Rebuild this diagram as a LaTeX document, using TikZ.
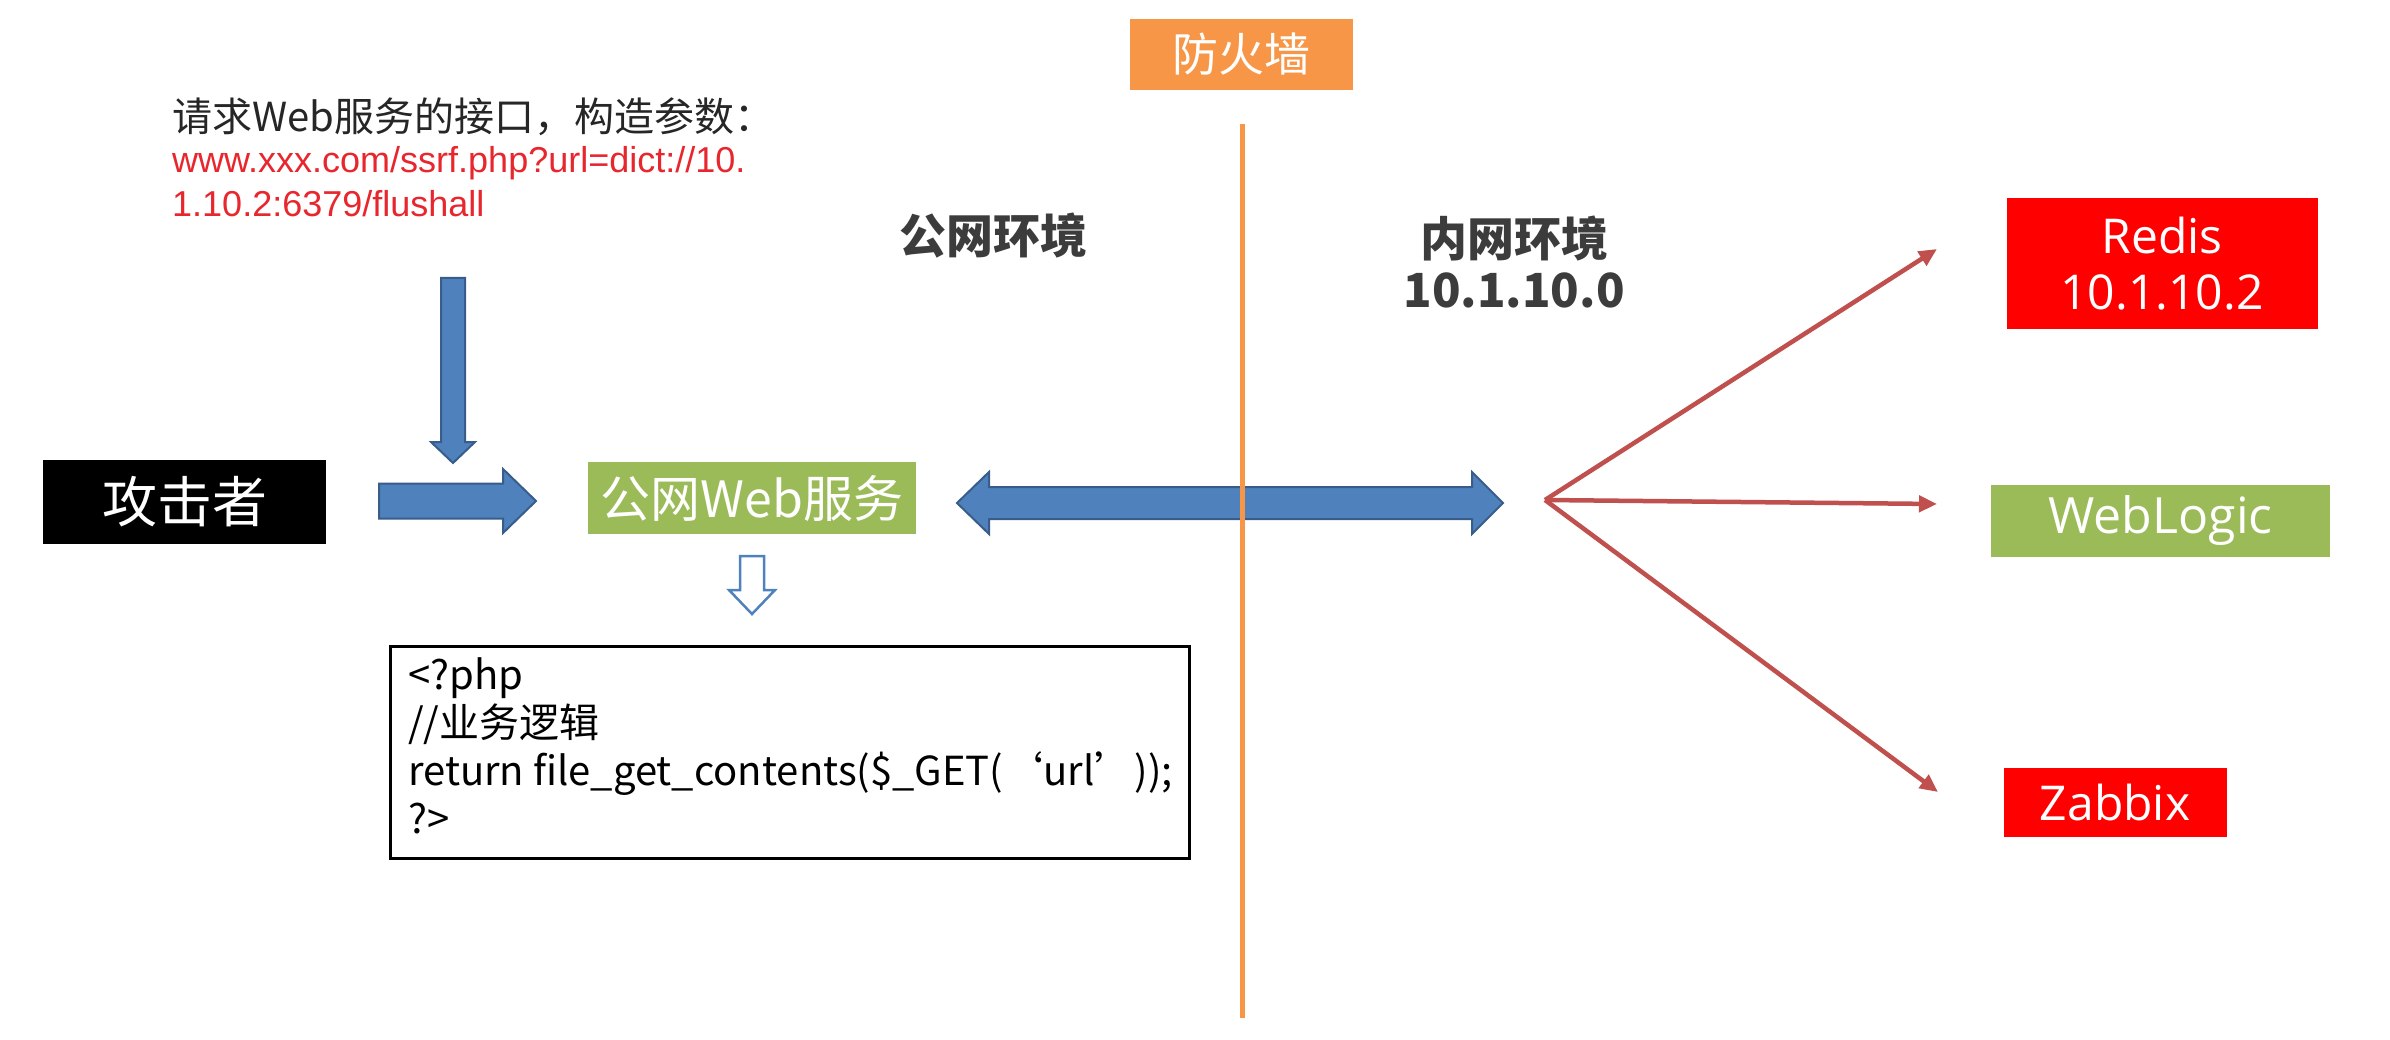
\documentclass[tikz,border=0pt]{standalone}
\usepackage{fontspec}
\setmainfont{Noto Sans CJK SC}
\newfontfamily\latinfont{Open Sans}
\newfontfamily\arialfont{Liberation Sans}
\usetikzlibrary{arrows.meta}
\definecolor{ofblue}{HTML}{4F81BD}
\definecolor{ofblueD}{HTML}{385D8A}
\definecolor{oforange}{HTML}{F79646}
\definecolor{ofgreen}{HTML}{9BBB59}
\definecolor{ofred}{HTML}{C0504D}
\definecolor{urlred}{HTML}{E8262E}
\definecolor{txtdark}{HTML}{3C3C3C}
\definecolor{boxred}{HTML}{FF0000}
\tikzset{
  labelbox/.style={inner sep=0pt, text=white, align=center},
  blockarrow/.style={fill=ofblue, draw=ofblueD, line width=2pt, line join=miter},
  redconn/.style={draw=ofred, line width=4.5pt, -{Triangle[length=18pt,width=16pt]}},
  codeline/.style={anchor=base west, inner sep=0pt, text=black, font=\fontsize{40}{48}\selectfont},
}
\begin{document}
\begin{tikzpicture}[x=1pt,y=-1pt]
\useasboundingbox (0,0) rectangle (2390,1040);
\fill[white] (0,0) rectangle (2390,1040);

% request text
\node[anchor=base west, inner sep=0pt, text=black!85, font=\fontsize{40}{48}\selectfont] (req) at (172,132) {请求Web服务的接口，构造参数：};
\node[anchor=base west, inner sep=0pt, text=urlred, font=\arialfont\fontsize{36}{44}\selectfont] (url1) at (172,173) {www.xxx.com/ssrf.php?url=dict://10.};
\node[anchor=base west, inner sep=0pt, text=urlred, font=\arialfont\fontsize{36}{44}\selectfont] (url2) at (172,217) {1.10.2:6379/flushall};

% zone labels
\node[inner sep=0pt, text=txtdark, font=\bfseries\fontsize{47}{54}\selectfont] (pub) at (993,236) {公网环境};
\node[inner sep=0pt, text=txtdark, font=\bfseries\fontsize{47}{54}\selectfont] (priv) at (1514,239) {内网环境};
\node[inner sep=0pt, text=txtdark, font=\bfseries\fontsize{47}{54}\selectfont] (privip) at (1514,290) {10.1.10.0};

% boxes
\node[labelbox, fill=black, minimum width=283pt, minimum height=84pt, font=\fontsize{55}{60}\selectfont] (att) at (184.5,502) {攻击者};
\node[labelbox, fill=ofgreen, minimum width=328pt, minimum height=72pt, font=\fontsize{50}{56}\selectfont] (web) at (752,498) {公网Web服务};
\node[labelbox, fill=oforange, minimum width=223pt, minimum height=71pt, font=\fontsize{46}{52}\selectfont] (fw) at (1241,54.5) {防火墙};
\node[labelbox, fill=boxred, minimum width=311pt, minimum height=131pt, font=\latinfont\fontsize{48}{56}\selectfont] (redis) at (2162,263.5) {Redis\\10.1.10.2};
\node[labelbox, fill=ofgreen, minimum width=339pt, minimum height=72pt, font=\latinfont\fontsize{50}{56}\selectfont] (wl) at (2160.5,521) {WebLogic};
\node[labelbox, fill=boxred, minimum width=223pt, minimum height=69pt, font=\latinfont\fontsize{48}{54}\selectfont] (zb) at (2115,802.5) {Zabbix};

% code box
\node[draw=black, line width=3pt, minimum width=799pt, minimum height=212pt, inner sep=0pt] (code) at (789.5,752) {};
\node[codeline] (c1) at (408,689) {<?php};
\node[codeline] (c2) at (408,737) {//业务逻辑};
\node[codeline] (c3) at (408,785) {return file\_get\_contents(\$\_GET(‘url’));};
\node[codeline] (c4) at (408,833) {?>};

% blue block arrows
\draw[blockarrow] (441,278) -- (465,278) -- (465,442) -- (475,442) -- (453,463) -- (431,442) -- (441,442) -- cycle;
\draw[blockarrow] (379,483.5) -- (503,483.5) -- (503,469) -- (536,501) -- (503,533) -- (503,518.5) -- (379,518.5) -- cycle;
\draw[blockarrow] (957,503) -- (989,472) -- (989,487) -- (1472,487) -- (1472,472) -- (1503,503) -- (1472,534) -- (1472,519) -- (989,519) -- (989,534) -- cycle;
\draw[fill=white, draw=ofblue, line width=2.5pt, line join=miter] (740,556) -- (764,556) -- (764,590) -- (775,590) -- (752,614) -- (729,590) -- (740,590) -- cycle;

% firewall line
\coordinate (fwtop) at (1242,124);
\coordinate (fwbot) at (1242,1018);
\draw[oforange, line width=5pt] (fwtop) -- (fwbot);

% red connectors
\coordinate (hub) at (1545,500);
\coordinate (tR) at (1937,249);
\coordinate (tW) at (1937,504);
\coordinate (tZ) at (1938,792);
\draw[redconn] (hub) -- (tR);
\draw[redconn] (hub) -- (tW);
\draw[redconn] (hub) -- (tZ);
\end{tikzpicture}
\end{document}
